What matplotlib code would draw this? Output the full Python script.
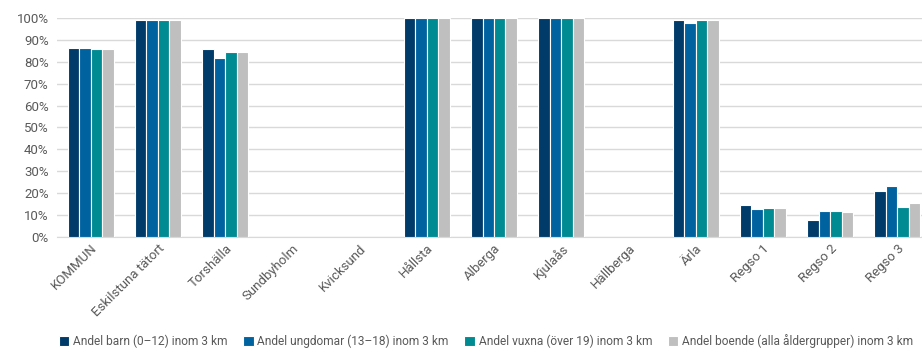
import numpy as np
import matplotlib.pyplot as plt
from matplotlib.ticker import PercentFormatter

orter = ['KOMMUN', 'Eskilstuna tätort', 'Torshälla', 'Sundbyholm', 'Kvicksund',
         'Hållsta', 'Alberga', 'Kjulaås', 'Hällberga', 'Ärla',
         'Regso 1', 'Regso 2', 'Regso 3']

barn = [86.3, 99.2, 85.8, 0, 0, 100, 100, 100, 0, 99.2, 14.5, 7.6, 21.2]
ungdomar = [86.5, 99.1, 81.7, 0, 0, 100, 100, 100, 0, 97.8, 12.7, 11.9, 23.1]
vuxna = [85.8, 99.3, 84.7, 0, 0, 100, 100, 100, 0, 99.1, 13.4, 11.8, 13.9]
boende = [85.8, 99.2, 84.7, 0, 0, 100, 100, 100, 0, 99.1, 13.4, 11.2, 15.4]

serier = [
    ('Andel barn (0–12) inom 3 km', barn, '#003b6a'),
    ('Andel ungdomar (13–18) inom 3 km', ungdomar, '#0063a0'),
    ('Andel vuxna (över 19) inom 3 km', vuxna, '#008a91'),
    ('Andel boende (alla åldergrupper) inom 3 km', boende, '#bfbfbf'),
]

plt.rcParams['font.family'] = ['Roboto', 'DejaVu Sans']
textfarg = '#595959'

fig = plt.figure(figsize=(9.22, 3.52), dpi=100)
ax = fig.add_axes([57 / 922, 115 / 352, 874 / 922, 219 / 352])

x = np.arange(len(orter))
w = 0.171
for i, (namn, varden, farg) in enumerate(serier):
    ax.bar(x + (i - 1.5) * w, varden, width=w, color=farg, edgecolor='white',
           linewidth=0.8, label=namn, zorder=3)

ax.set_xlim(-0.5, len(orter) - 0.5)
ax.set_ylim(0, 100)
ax.set_yticks(np.arange(0, 101, 10))
ax.yaxis.set_major_formatter(PercentFormatter(decimals=0))
ax.grid(axis='y', color='#d9d9d9', linewidth=1, zorder=0)
for s in ['top', 'right', 'left']:
    ax.spines[s].set_visible(False)
ax.spines['bottom'].set_color('#d9d9d9')
ax.tick_params(length=0, colors=textfarg, labelsize=9.5)
ax.tick_params(axis='y', pad=6)
ax.set_xticks(x)
ax.set_xticklabels(orter, rotation=45, ha='right', rotation_mode='anchor')

fig.legend(loc='lower center', bbox_to_anchor=(0.527, -0.02), ncol=4, frameon=False,
           fontsize=8.6, labelcolor=textfarg, handlelength=0.9, handleheight=0.9,
           handletextpad=0.3, columnspacing=1.3)

fig.savefig('out.png', dpi=100)
